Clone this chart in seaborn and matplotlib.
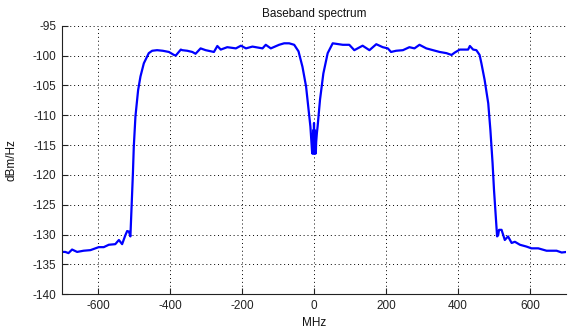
import numpy as np
import pandas as pd
import matplotlib
matplotlib.use("Agg")
import matplotlib.pyplot as plt
import seaborn as sns

# Frequency (MHz) and power spectral density (dBm/Hz)
freq_mhz = [
    -709, -691, -682, -672, -658, -640, -621, -607, -598, -584, -570, -552,
    -542, -533, -524, -519, -514, -510, -507, -503, -500.6, -496, -488.6,
    -482, -472.7, -459, -449.6, -436, -420, -403, -389, -384, -370, -366,
    -352, -338, -329, -315, -301, -278, -268.5, -259, -241, -217, -203,
    -189, -171, -143, -134, -120, -97, -83, -69, -55, -43, -32, -22, -15,
    -10, -7.5, -6, -5, -4, -3, -2, -1, 0, 1, 2, 3, 4, 5, 6, 8, 10, 16.7,
    26, 38, 52, 80, 98, 112, 135, 154, 173, 191, 205, 214, 228, 247, 265,
    279, 293, 312, 330, 349, 368, 382, 391, 405, 428, 433, 442, 451, 460,
    465, 474, 484, 490, 496, 500, 505, 508.6, 511.5, 514, 521, 530, 539,
    549, 558, 572, 590, 604, 623, 646, 674, 688, 702,
]
psd_dbm_hz = [
    -132.9, -132.9, -133.1, -132.5, -132.9, -132.7, -132.6, -132.3, -132.1,
    -132.1, -131.7, -131.6, -130.9, -131.6, -130.1, -129.4, -129.5, -130.3,
    -125.9, -119.7, -115.3, -110.2, -105.8, -103.5, -101.3, -99.6, -99.2,
    -99.1, -99.2, -99.4, -99.9, -100.0, -99.0, -99.1, -99.2, -99.4, -99.7,
    -98.8, -99.1, -99.4, -98.4, -99.0, -98.6, -98.8, -98.35, -98.8, -98.5,
    -98.8, -98.2, -98.8, -98.2, -97.95, -97.95, -98.2, -99.3, -101.9,
    -105.2, -109.1, -111.9, -114.1, -115.5, -116.4, -113.2, -116.4, -112.5,
    -116.4, -111.3, -116.4, -112.5, -116.4, -113.2, -116.4, -114.5, -113.0,
    -111.9, -107.4, -103.0, -99.6, -97.95, -98.2, -98.2, -99.1, -98.35,
    -99.1, -98.1, -98.6, -98.8, -99.4, -99.2, -99.1, -98.6, -98.8, -98.2,
    -98.8, -99.1, -99.4, -99.6, -99.9, -99.5, -99.0, -99.0, -98.4, -99.0,
    -99.1, -99.9, -101.3, -104.1, -108.0, -112.5, -118.0, -122.5, -127.0,
    -130.3, -130.1, -129.2, -129.2, -130.9, -130.3, -131.4, -131.2, -131.7,
    -132.0, -132.3, -132.3, -132.7, -132.7, -133.0, -132.9,
]

x_ticks = [-600, -400, -200, 0, 200, 400, 600]
y_ticks = [-140, -135, -130, -125, -120, -115, -110, -105, -100, -95]

sns.set_theme(style="white")
plt.rcParams["font.family"] = ["Liberation Sans", "DejaVu Sans"]

df = pd.DataFrame({"MHz": freq_mhz, "dBm/Hz": psd_dbm_hz})

fig = plt.figure(figsize=(5.68, 3.31), dpi=100)
ax = fig.add_axes([62 / 568, (331 - 294.3) / 331, (566 - 62) / 568, (294.3 - 25.7) / 331])

sns.lineplot(data=df, x="MHz", y="dBm/Hz", ax=ax, color="#0000ff",
             linewidth=1.6, sort=False, estimator=None)

ax.set_xlim(-700, 700)
ax.set_ylim(-140, -95)
ax.set_xticks(x_ticks)
ax.set_yticks(y_ticks)
ax.set_xticklabels([str(v) for v in x_ticks])
ax.set_yticklabels([str(v) for v in y_ticks])

ax.grid(True, linestyle=(0, (1, 3)), color="black", linewidth=0.7)
ax.set_axisbelow(True)
for side in ["top", "right"]:
    ax.spines[side].set_visible(False)
for side in ["left", "bottom"]:
    ax.spines[side].set_color("#222222")
    ax.spines[side].set_linewidth(0.8)

ax.tick_params(axis="both", direction="in", length=4, width=0.8,
               labelsize=8.5, colors="#222222", pad=4,
               left=True, bottom=True)
ax.set_facecolor("white")

ax.set_title("Baseband spectrum", fontsize=8.5, pad=6, color="#111111")
ax.set_xlabel("MHz", fontsize=8.5, labelpad=4, color="#111111")
ax.set_ylabel("dBm/Hz", fontsize=8.5, labelpad=11, color="#111111")

fig.savefig("out.png", dpi=100, facecolor="white")
